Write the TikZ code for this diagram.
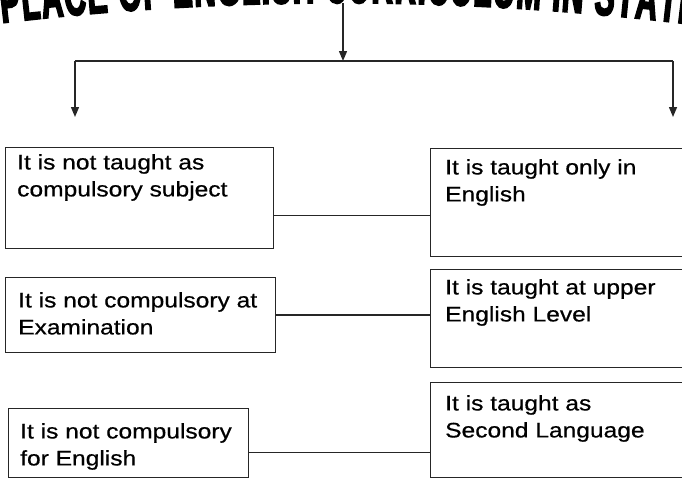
\documentclass[tikz,border=0pt]{standalone}
\usepackage{fontspec}
\setmainfont[FakeStretch=1.17,FakeBold=0.6]{Liberation Sans}
\newfontfamily\titlefont[FakeStretch=0.5,FakeBold=2.5]{Liberation Sans}
\usetikzlibrary{arrows.meta,decorations.text,calc}
\begin{document}
\begin{tikzpicture}[x=1pt,y=-1pt,
  box/.style={draw=black!85, line width=1.3pt, rectangle, inner sep=0pt, anchor=north west},
  txt/.style={anchor=north west, inner sep=0pt, align=left, font=\fontsize{21}{27}\selectfont},
  link/.style={draw=black!85, line width=1.4pt},
  arr/.style={link, -{Triangle[length=10pt,width=8pt]}}
]
\useasboundingbox (0,0) rectangle (682,479);
\clip (0,0) rectangle (682,479);

% title (arched, top cut off)
\path[decorate, decoration={text along path, text align={fit to path},
  text={|\titlefont\bfseries\fontsize{60}{60}\selectfont|PLACE OF ENGLISH CURRICULUM IN STATE}}]
  (2,23) .. controls (230,-4) and (460,-4) .. (696,25);

\coordinate (tb) at (343,3);
\coordinate (sp) at (343,61);
\coordinate (lt) at (75,61);
\coordinate (rt) at (673,61);
\coordinate (la) at (75,117);
\coordinate (ra) at (673,117);

\draw[arr] (tb) -- (sp);
\draw[link] (lt) -- (rt);
\draw[arr] (lt) -- (la);
\draw[arr] (rt) -- (ra);

% left boxes
\node[box, minimum width=268pt, minimum height=101pt] (l1) at (5,147) {};
\node[box, minimum width=270pt, minimum height=75pt] (l2) at (5,277) {};
\node[box, minimum width=240pt, minimum height=69pt] (l3) at (8,408) {};
% right boxes
\node[box, minimum width=280pt, minimum height=108pt] (r1) at (430,148) {};
\node[box, minimum width=280pt, minimum height=98pt] (r2) at (430,269) {};
\node[box, minimum width=280pt, minimum height=95pt] (r3) at (430,382) {};

% texts
\node[txt] (l1t) at (17,154) {It is not taught as\\compulsory subject};
\node[txt] (l2t) at (18,292) {It is not compulsory at\\Examination};
\node[txt] (l3t) at (20,423) {It is not compulsory\\for English};
\node[txt] (r1t) at (445,159) {It is taught only in\\English};
\node[txt] (r2t) at (445,279) {It is taught at upper\\English Level};
\node[txt] (r3t) at (445,395) {It is taught as\\Second Language};

% connectors
\path (l1.south east) ++(0,-34) coordinate (c1);
\draw[link] (c1) -- (c1 -| r1.west);
\draw[link] (l2.east) -- (l2.east -| r2.west);
\path (l3.south east) ++(0,-26) coordinate (c3);
\draw[link] (c3) -- (c3 -| r3.west);
\end{tikzpicture}
\end{document}
